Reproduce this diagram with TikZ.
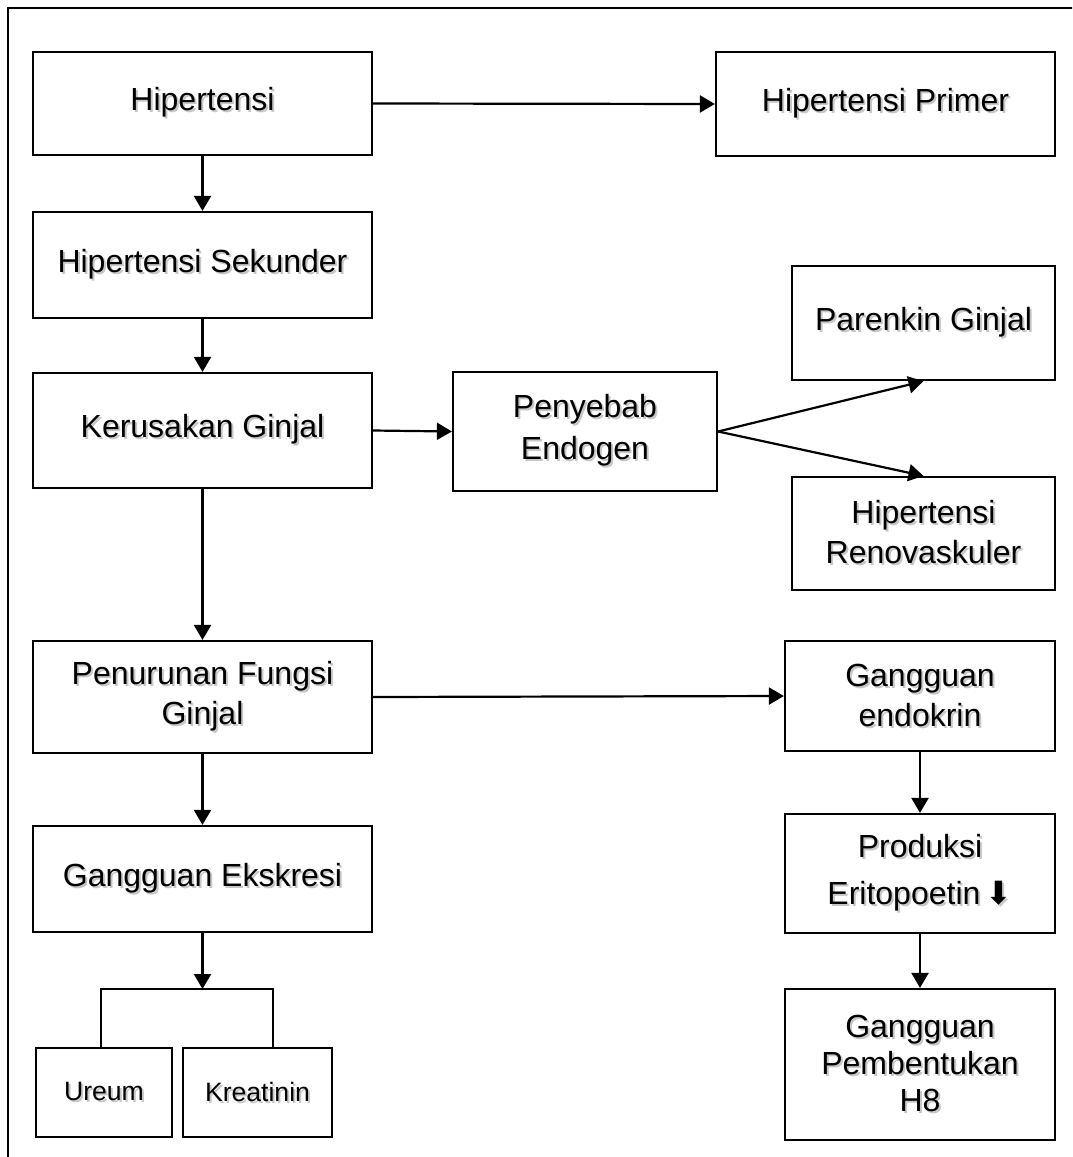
\documentclass[tikz,border=0pt]{standalone}
\usepackage{fontspec}
\setmainfont{Liberation Sans}
\newfontfamily\dejavu{DejaVu Sans}
\usetikzlibrary{arrows.meta}
\newcommand\shd[1]{\leavevmode\rlap{\hspace{1pt}\raisebox{-1pt}{\textcolor{black!22}{#1}}}#1}
\tikzset{
  box/.style={draw, line width=1.1pt, inner sep=0pt, align=center,
    font=\fontsize{16pt}{20pt}\selectfont},
  smallbox/.style={box, font=\fontsize{13.3pt}{16pt}\selectfont},
  conn/.style={line width=1.1pt, -{Triangle[length=7.5pt,width=8.5pt]}},
  plain/.style={line width=1.1pt}
}
\begin{document}
\begin{tikzpicture}[x=0.5pt,y=-0.5pt]
\useasboundingbox (0,0) rectangle (1072,1157);
\clip (0,0) rectangle (1072,1157);
\draw[line width=1.1pt] (8,8) rectangle (1110,1200);

\node[box, minimum width=169.5pt, minimum height=51.5pt] (hip) at (202.5,103.5) {\shd{Hipertensi}};
\node[box, minimum width=169.5pt, minimum height=52pt] (prim) at (885.5,104) {\shd{Hipertensi Primer}};
\node[box, minimum width=169.5pt, minimum height=53pt] (sek) at (202.5,265) {\shd{Hipertensi Sekunder}};
\node[box, minimum width=169.5pt, minimum height=57.5pt] (ker) at (202.5,430.5) {\shd{Kerusakan Ginjal}};
\node[box, minimum width=132pt, minimum height=59.5pt, font=\fontsize{16pt}{21pt}\selectfont] (pen) at (585,431.5) {\shd{Penyebab}\\\shd{Endogen}};
\node[box, minimum width=131.5pt, minimum height=57pt] (par) at (923.5,323) {\shd{Parenkin Ginjal}};
\node[box, minimum width=131.5pt, minimum height=56.5pt] (ren) at (923.5,533.5) {\shd{Hipertensi}\\\shd{Renovaskuler}};
\node[box, minimum width=169.5pt, minimum height=56pt] (fun) at (202.5,697) {\shd{Penurunan Fungsi}\\\shd{Ginjal}};
\node[box, minimum width=135pt, minimum height=55pt] (end) at (920,696) {\shd{Gangguan}\\\shd{endokrin}};
\node[box, minimum width=169.5pt, minimum height=53pt] (eks) at (202.5,879) {\shd{Gangguan Ekskresi}};
\node[box, minimum width=135pt, minimum height=59.5pt, font=\fontsize{16pt}{23.5pt}\selectfont] (pro) at (920,873.5) {\shd{Produksi}\\\shd{Eritopoetin\,{\dejavu ⬇}}};
\node[box, minimum width=135pt, minimum height=75.5pt, font=\fontsize{16pt}{18.5pt}\selectfont] (hb) at (920,1064.5) {\shd{Gangguan}\\\shd{Pembentukan}\\\shd{H8}};
\node[smallbox, minimum width=68pt, minimum height=44.5pt] (ure) at (104,1092.5) {\shd{Ureum}};
\node[smallbox, minimum width=74.5pt, minimum height=44.5pt] (kre) at (257.5,1092.5) {\shd{Kreatinin}};

\coordinate (bl) at (101,989);
\coordinate (br) at (273,989);

\draw[conn] (hip.east) -- (prim.west);
\draw[conn] (hip.south) -- (sek.north);
\draw[conn] (sek.south) -- (ker.north);
\draw[conn] (ker.east) -- (pen.west);
\draw[conn] (pen.east) -- (par.south);
\draw[conn] (pen.east) -- (ren.north);
\draw[conn] (ker.south) -- (fun.north);
\draw[conn] (fun.east) -- (end.west);
\draw[conn] (fun.south) -- (eks.north);
\draw[conn] (end.south) -- (pro.north);
\draw[conn] (pro.south) -- (hb.north);
\draw[conn] (eks.south) -- (eks.south |- bl);
\draw[plain] (bl |- ure.north) -- (bl) -- (br) -- (br |- kre.north);
\end{tikzpicture}
\end{document}
